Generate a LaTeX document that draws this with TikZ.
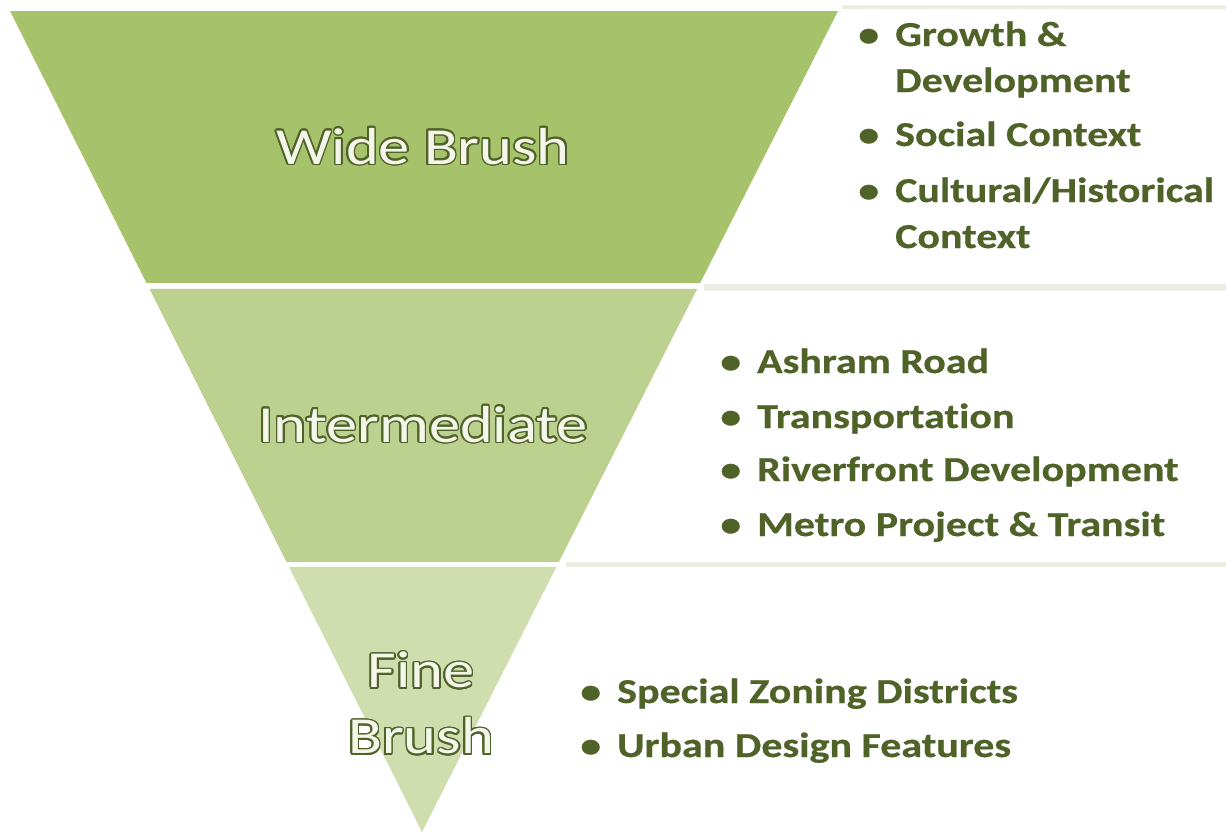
\documentclass[tikz,border=0pt]{standalone}
\usepackage{fontspec}
\setmainfont{Carlito}
\newfontfamily\listfont[FakeStretch=1.2, Ligatures=CommonOff, BoldFeatures={FakeBold=0.6}]{Carlito}
\usepackage{contour}
\usepackage{tikz}
\usetikzlibrary{calc}
\definecolor{wideband}{HTML}{A6C36C}
\definecolor{midband}{HTML}{BCD190}
\definecolor{fineband}{HTML}{CFDDAF}
\definecolor{listolive}{HTML}{4F6228}
\definecolor{rulegray}{HTML}{EBEDE2}
\definecolor{labelfill}{HTML}{F4F6EA}
\contourlength{1.6pt}
\newcommand{\itembullet}{\llap{\textbullet\hspace{16pt}}}
\tikzset{
  level/.style={font=\listfont\fontsize{52}{66}\selectfont, text=labelfill, align=center, inner sep=0pt},
  entry/.style={anchor=base west, font=\listfont\bfseries\fontsize{35}{46}\selectfont, text=listolive, align=left, inner sep=0pt},
  rule/.style={fill=rulegray}
}

\begin{document}
\begin{tikzpicture}[x=1pt,y=-1pt]
  \useasboundingbox (0,0) rectangle (1226,835);
  \coordinate (tl) at (10,11);
  \coordinate (tr) at (838,11);
  \coordinate (apex) at (422,832);
  \fill[wideband] (tl) -- (tr) -- ($(tr)!.3313!(apex)$) -- ($(tl)!.3313!(apex)$) -- cycle;
  \fill[midband] ($(tl)!.3386!(apex)$) -- ($(tr)!.3386!(apex)$) -- ($(tr)!.6711!(apex)$) -- ($(tl)!.6711!(apex)$) -- cycle;
  \fill[fineband] ($(tl)!.6772!(apex)$) -- ($(tr)!.6772!(apex)$) -- (apex) -- cycle;
  \fill[rule] (842,5) rectangle (1226,9);
  \fill[rule] (704,284) rectangle (1226,291);
  \fill[rule] (566,562) rectangle (1226,567);
  \node[level] (wide) at (423,147) {\contour{listolive}{Wide Brush}};
  \node[level] (inter) at (423,425) {\contour{listolive}{Intermediate}};
  \node[level] (fine) at (421,704) {\contour{listolive}{Fine}\\\contour{listolive}{Brush}};
  \node[entry] (growth) at (895,92) {\itembullet Growth \&\\Development};
  \node[entry] (social) at (895,146) {\itembullet Social Context};
  \node[entry] (cultural) at (895,248) {\itembullet Cultural/Historical\\Context};
  \node[entry] (ashram) at (757,373) {\itembullet Ashram Road};
  \node[entry] (transport) at (757,428) {\itembullet Transportation};
  \node[entry] (river) at (757,481) {\itembullet Riverfront Development};
  \node[entry] (metro) at (757,536) {\itembullet Metro Project \& Transit};
  \node[entry] (zoning) at (617,703) {\itembullet Special Zoning Districts};
  \node[entry] (urban) at (617,757) {\itembullet Urban Design Features};
\end{tikzpicture}
\end{document}
